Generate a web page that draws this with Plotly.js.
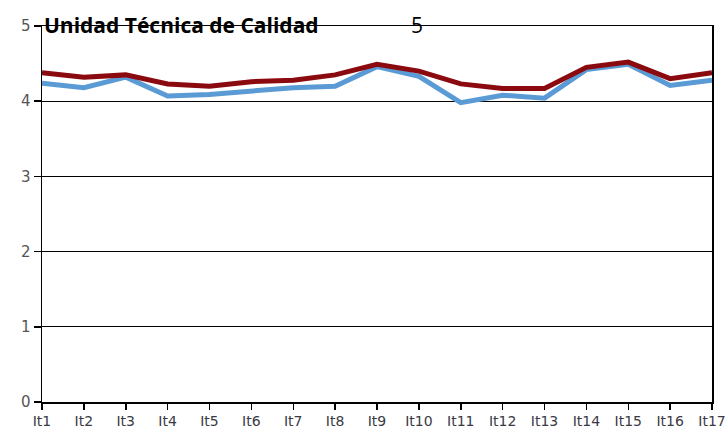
<!DOCTYPE html>
<html>
<head>
<meta charset="utf-8">
<script src="https://cdn.plot.ly/plotly-3.0.1.min.js"></script>
<style>html,body{margin:0;padding:0;background:#fff;}#chart{width:728px;height:432px;}</style>
</head>
<body>
<div id="chart"></div>
<script>
const categories = ["It1","It2","It3","It4","It5","It6","It7","It8","It9","It10","It11","It12","It13","It14","It15","It16","It17"];
const seriesBlue = [4.24,4.18,4.32,4.07,4.09,4.14,4.18,4.20,4.46,4.33,3.98,4.08,4.04,4.42,4.49,4.21,4.28];
const seriesRed  = [4.38,4.32,4.35,4.23,4.20,4.26,4.28,4.35,4.49,4.40,4.23,4.17,4.17,4.45,4.52,4.30,4.38];
const yTicks = [0,1,2,3,4,5];
const titleText = "Unidad Técnica de Calidad";
const pageNumber = "5";

const traces = [
  {x: categories, y: seriesBlue, type: 'scatter', mode: 'lines', line: {color: '#5B9BD5', width: 5}, hoverinfo: 'skip'},
  {x: categories, y: seriesRed, type: 'scatter', mode: 'lines', line: {color: '#8B0A10', width: 5}, hoverinfo: 'skip'}
];

const layout = {
  width: 728, height: 432,
  margin: {l: 42, r: 16, t: 26, b: 30, pad: 0},
  paper_bgcolor: '#fff', plot_bgcolor: '#fff',
  showlegend: false,
  xaxis: {
    type: 'category', range: [0, 16],
    showgrid: false, showline: true, linecolor: '#000', linewidth: 1.5, mirror: true,
    ticks: 'outside', ticklen: 6, tickcolor: '#000', tickwidth: 1.5,
    tickfont: {family: 'DejaVu Sans', size: 14, color: '#3a3a44'},
    zeroline: false, fixedrange: true
  },
  yaxis: {
    range: [0, 5], tickvals: yTicks, ticktext: yTicks.map(String),
    showgrid: true, gridcolor: '#000', gridwidth: 1.2,
    showline: true, linecolor: '#000', linewidth: 1.5, mirror: true,
    ticks: 'outside', ticklen: 7, tickcolor: '#000', tickwidth: 1.5,
    tickfont: {family: 'DejaVu Sans', size: 15, color: '#555'},
    zeroline: false, fixedrange: true
  },
  annotations: [
    {text: '<b>' + titleText + '</b>', xref: 'paper', yref: 'paper', x: 0, y: 1, xanchor: 'left', yanchor: 'middle', yshift: 1, showarrow: false, font: {family: 'Open Sans', size: 21, color: '#000'}},
    {text: pageNumber, xref: 'paper', yref: 'paper', x: 0.5604, y: 1, xanchor: 'center', yanchor: 'middle', yshift: 1, showarrow: false, font: {family: 'Open Sans', size: 21, color: '#000'}}
  ]
};

Plotly.newPlot('chart', traces, layout, {staticPlot: true, displayModeBar: false});
</script>
</body>
</html>
